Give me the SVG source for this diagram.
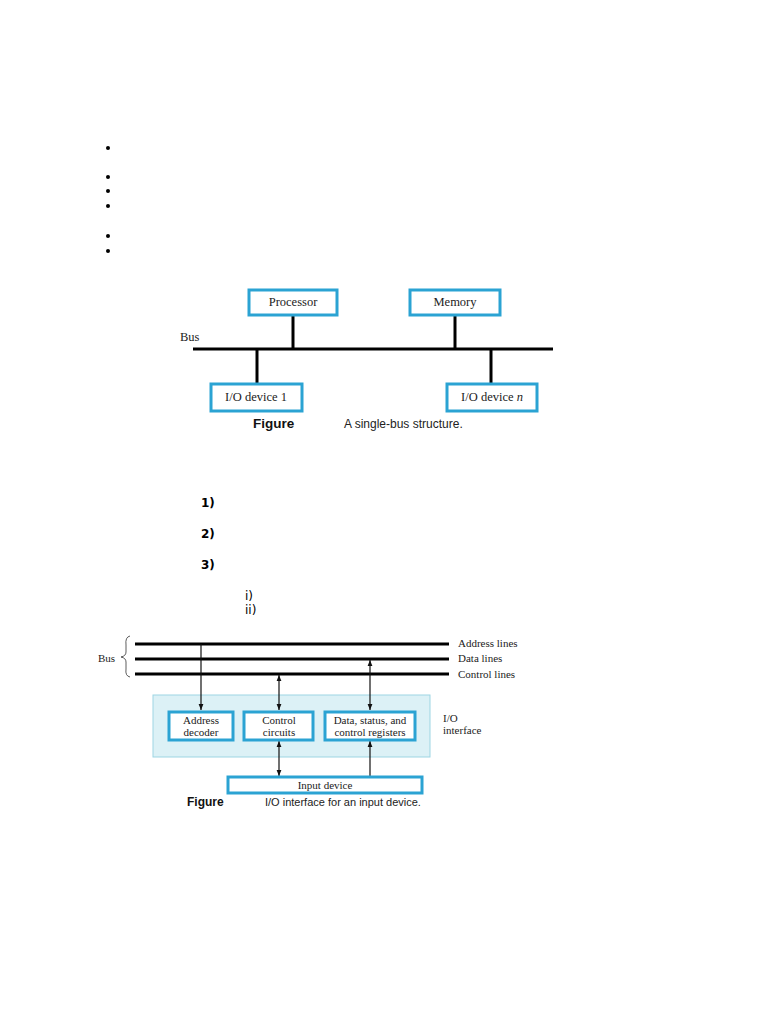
<svg xmlns="http://www.w3.org/2000/svg" width="768" height="1024" viewBox="0 0 768 1024">
<defs>
<style>
.box{fill:#fff;stroke:#2ba3d3;stroke-width:3}
.t{font-family:"Liberation Serif",serif;fill:#222}
.cap{font-family:"Liberation Sans",sans-serif;fill:#222}
.fig{font-family:"Liberation Sans",sans-serif;font-weight:bold;fill:#111}
.num{font-family:"DejaVu Sans",sans-serif;font-size:12px;fill:#000}
.bus{stroke:#000;stroke-width:3;fill:none}
.thin{stroke:#111;stroke-width:1.2;fill:none}
</style>
<marker id="ah" viewBox="0 0 10 10" refX="10" refY="5" markerWidth="6" markerHeight="7" orient="auto-start-reverse" markerUnits="userSpaceOnUse">
<path d="M0,1 L10,5 L0,9 z" fill="#111"/>
</marker>
</defs>
<rect width="768" height="1024" fill="#fff"/>
<g id="bullets" fill="#000">
<circle cx="108" cy="148" r="2"/>
<circle cx="108" cy="177" r="2"/>
<circle cx="108" cy="191" r="2"/>
<circle cx="108" cy="206" r="2"/>
<circle cx="108" cy="236" r="2"/>
<circle cx="108" cy="251" r="2"/>
</g>
<g id="connectors1">
<line class="bus" x1="193" y1="349" x2="553" y2="349"/>
<line class="bus" x1="293" y1="316" x2="293" y2="349"/>
<line class="bus" x1="455" y1="316" x2="455" y2="349"/>
<line class="bus" x1="257" y1="349" x2="257" y2="383"/>
<line class="bus" x1="491" y1="349" x2="491" y2="383"/>
</g>
<text class="t" x="180" y="341" font-size="12.5">Bus</text>
<g id="processor"><rect class="box" x="249" y="290" width="88" height="25"/><text class="t" x="293" y="306" font-size="12.5" text-anchor="middle">Processor</text></g>
<g id="memory"><rect class="box" x="410" y="290" width="90" height="25"/><text class="t" x="455" y="306" font-size="12.5" text-anchor="middle">Memory</text></g>
<g id="io1"><rect class="box" x="211" y="384" width="91" height="27"/><text class="t" x="256" y="401" font-size="12.5" text-anchor="middle">I/O device 1</text></g>
<g id="ion"><rect class="box" x="447" y="384" width="90" height="27"/><text class="t" x="492" y="401" font-size="12.5" text-anchor="middle">I/O device <tspan font-style="italic">n</tspan></text></g>
<text class="fig" x="253" y="428" font-size="13.5">Figure</text>
<text class="cap" x="344" y="428" font-size="12">A single-bus structure.</text>

<g font-weight="bold">
<text class="num" x="201" y="507">1)</text>
<text class="num" x="201" y="538">2)</text>
<text class="num" x="201" y="569">3)</text>
</g>
<text class="num" x="245" y="600">i)</text>
<text class="num" x="245" y="614">ii)</text>

<g id="iface"><rect x="153" y="695" width="277" height="62" fill="#dcf1f6" stroke="#9dd5e3" stroke-width="1"/></g>
<g id="connectors2">
<line class="bus" x1="135" y1="644" x2="449" y2="644" stroke-width="2.5"/>
<line class="bus" x1="135" y1="659" x2="449" y2="659" stroke-width="2.5"/>
<line class="bus" x1="135" y1="674" x2="449" y2="674" stroke-width="2.5"/>
<line class="thin" x1="201" y1="644" x2="201" y2="710" marker-end="url(#ah)"/>
<line class="thin" x1="279" y1="675" x2="279" y2="710" marker-start="url(#ah)" marker-end="url(#ah)"/>
<line class="thin" x1="370" y1="660" x2="370" y2="710" marker-start="url(#ah)" marker-end="url(#ah)"/>
<line class="thin" x1="279" y1="741" x2="279" y2="776" marker-start="url(#ah)" marker-end="url(#ah)"/>
<line class="thin" x1="370" y1="776" x2="370" y2="741" marker-end="url(#ah)"/>
<path d="M130,636 Q125,637 126,645 L126,652 Q126,656 121,657 Q126,658 126,662 L126,669 Q125,676 130,677" fill="none" stroke="#333" stroke-width="0.8"/>
</g>
<text class="t" x="98" y="662" font-size="11">Bus</text>
<text class="t" x="458" y="647" font-size="11">Address lines</text>
<text class="t" x="458" y="662" font-size="11">Data lines</text>
<text class="t" x="458" y="678" font-size="11">Control lines</text>
<text class="t" x="443" y="722" font-size="11">I/O</text>
<text class="t" x="443" y="734" font-size="11">interface</text>
<g id="addr"><rect class="box" x="169" y="712" width="64" height="28"/><text class="t" x="201" y="724" font-size="11" text-anchor="middle">Address</text><text class="t" x="201" y="736" font-size="11" text-anchor="middle">decoder</text></g>
<g id="ctrl"><rect class="box" x="244" y="712" width="69" height="28"/><text class="t" x="279" y="724" font-size="11" text-anchor="middle">Control</text><text class="t" x="279" y="736" font-size="11" text-anchor="middle">circuits</text></g>
<g id="data"><rect class="box" x="325" y="712" width="90" height="28"/><text class="t" x="370" y="724" font-size="11" text-anchor="middle">Data, status, and</text><text class="t" x="370" y="736" font-size="11" text-anchor="middle">control registers</text></g>
<g id="input"><rect class="box" x="228" y="777" width="194" height="16"/><text class="t" x="325" y="789" font-size="11" text-anchor="middle">Input device</text></g>
<text class="fig" x="187" y="806" font-size="12">Figure</text>
<text class="cap" x="265" y="806" font-size="11">I/O interface for an input device.</text>
</svg>
